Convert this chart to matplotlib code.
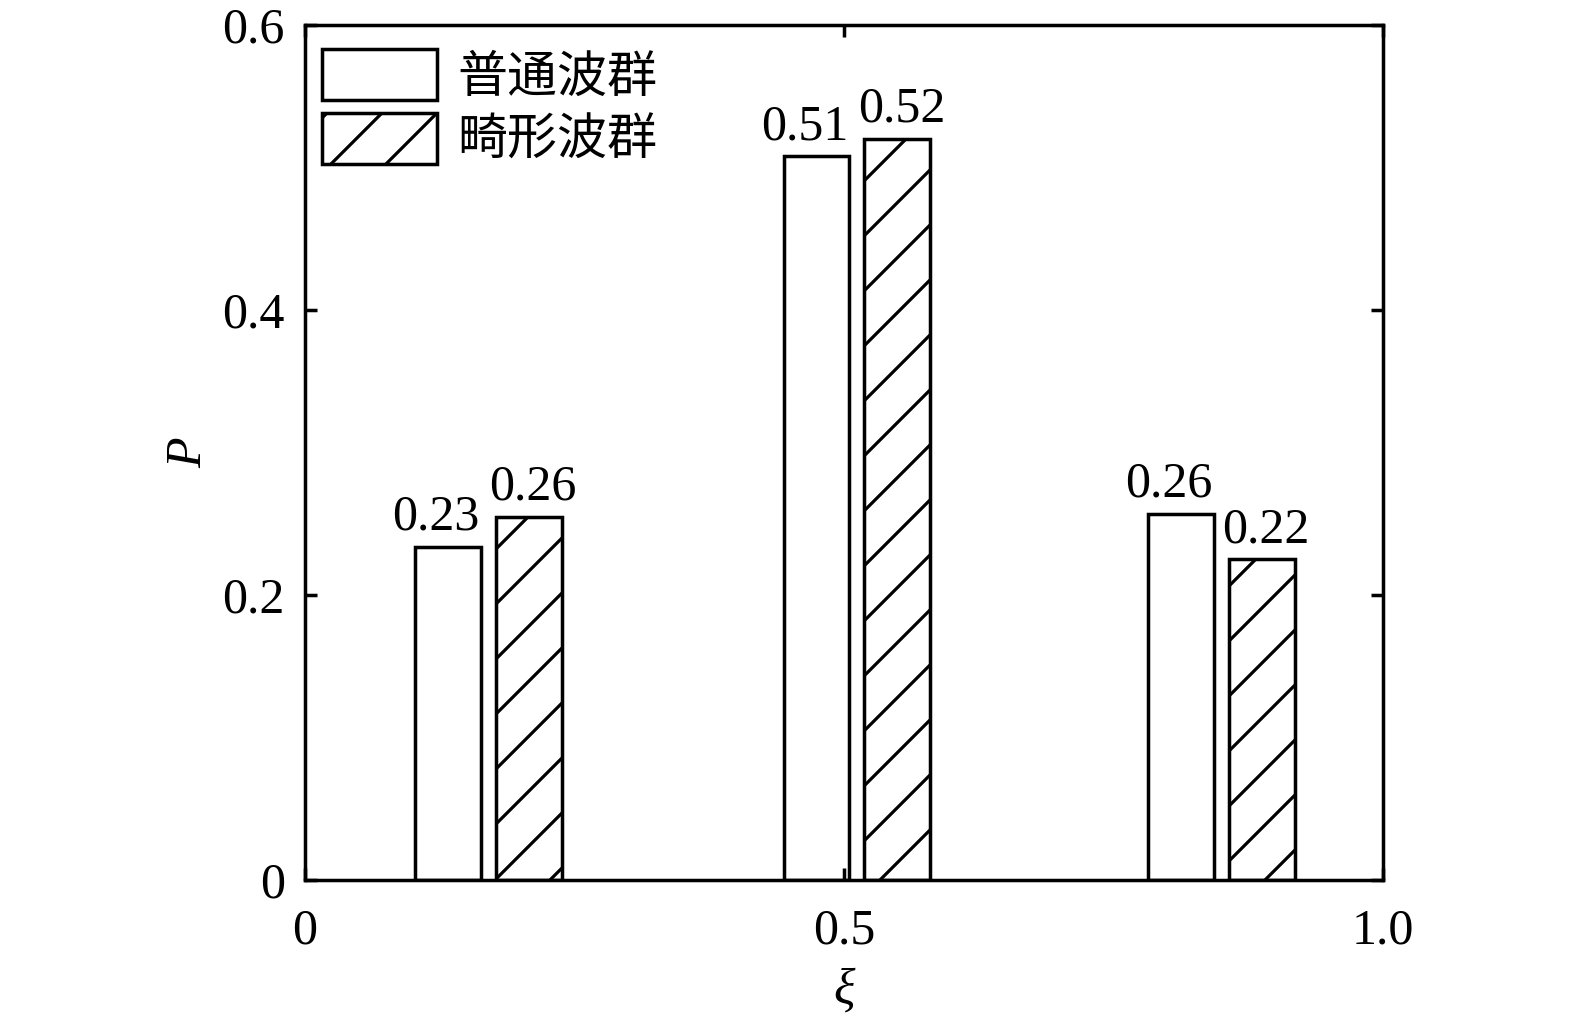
import numpy as np
import matplotlib
matplotlib.use("Agg")
import matplotlib.pyplot as plt

# data
group_x = [0.17, 0.512, 0.85]
normal_vals = [0.234, 0.508, 0.257]
rogue_vals = [0.255, 0.520, 0.225]
normal_labels = ["0.23", "0.51", "0.26"]
rogue_labels = ["0.26", "0.52", "0.22"]
series_names = ["普通波群", "畸形波群"]
xticks = [0, 0.5, 1.0]
xtick_labels = ["0", "0.5", "1.0"]
yticks = [0, 0.2, 0.4, 0.6]
ytick_labels = ["0", "0.2", "0.4", "0.6"]

# high dpi so the hatch spacing comes out wide like the reference
DPI = 330
PX = 72.0 / DPI  # one pixel in points

plt.rcParams['font.family'] = ['Liberation Serif', 'Noto Sans CJK SC']
plt.rcParams['hatch.linewidth'] = 3.2 * PX
plt.rcParams['axes.linewidth'] = 3.5 * PX

FS = 50 * PX
LW = 3.5 * PX

fig = plt.figure(figsize=(1575 / DPI, 1020 / DPI), dpi=DPI)
ax = fig.add_axes([305 / 1575, 1 - 880 / 1020, (1383 - 305) / 1575, (880 - 25) / 1020])

width = 0.061
off = 0.0375
gx = np.array(group_x)
b1 = ax.bar(gx - off, normal_vals, width, facecolor='white', edgecolor='black',
            linewidth=LW, label=series_names[0])
b2 = ax.bar(gx + off, rogue_vals, width, facecolor='white', edgecolor='black',
            linewidth=LW, hatch='//', label=series_names[1])

for rect, lab in zip(b1, normal_labels):
    ax.annotate(lab, (rect.get_x() + rect.get_width() / 2, rect.get_height()),
                xytext=(-12 * PX, 6 * PX), textcoords='offset points',
                ha='center', va='bottom', fontsize=FS)
for rect, lab in zip(b2, rogue_labels):
    ax.annotate(lab, (rect.get_x() + rect.get_width() / 2, rect.get_height()),
                xytext=(4 * PX, 6 * PX), textcoords='offset points',
                ha='center', va='bottom', fontsize=FS)

ax.set_xlim(0, 1.0)
ax.set_ylim(0, 0.6)
ax.set_xticks(xticks)
ax.set_xticklabels(xtick_labels)
ax.set_yticks(yticks)
ax.set_yticklabels(ytick_labels)
ax.tick_params(direction='in', length=12 * PX, width=LW, labelsize=FS,
               top=True, right=True, pad=20 * PX)
ax.tick_params(axis='x', pad=28 * PX)

ax.set_xlabel('ξ', fontsize=FS, style='italic', labelpad=14 * PX)
ax.set_ylabel('P', fontsize=FS, style='italic', labelpad=10 * PX)

leg = ax.legend(loc='upper left', frameon=False, fontsize=FS,
                handlelength=2.3, handleheight=1.2, labelspacing=0.2,
                handletextpad=0.4, borderaxespad=0.0, borderpad=0.0,
                bbox_to_anchor=(17 / 1078, 1 - 24 / 855))

fig.savefig('out.png', dpi=DPI)
